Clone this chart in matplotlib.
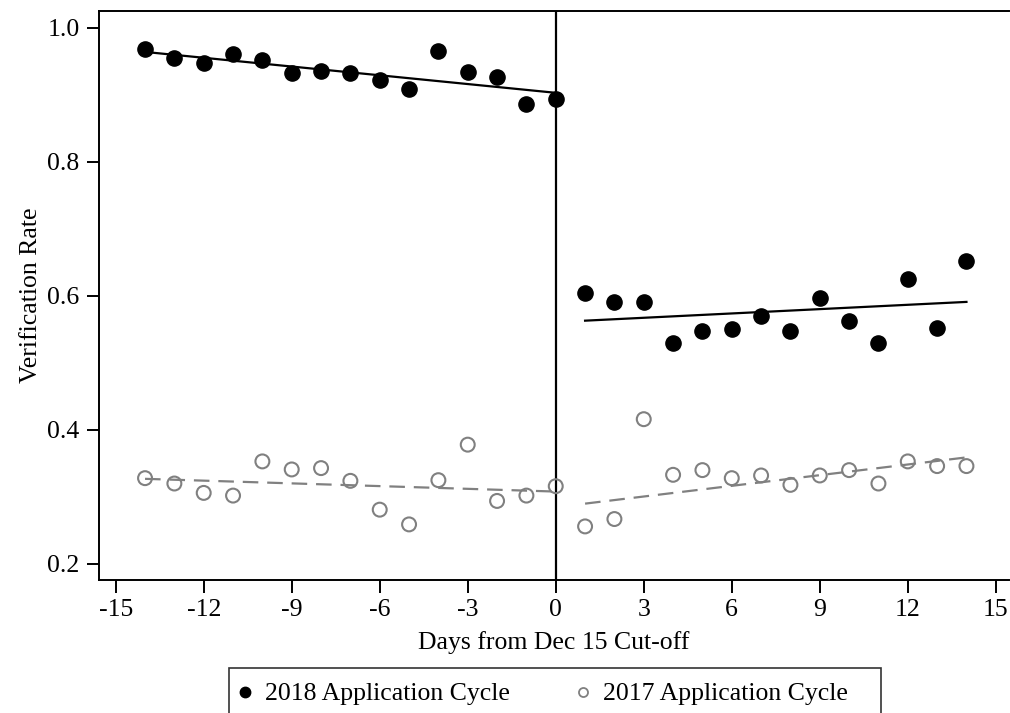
import matplotlib
matplotlib.use('Agg')
import matplotlib.pyplot as plt
from matplotlib.lines import Line2D
from matplotlib.patches import Rectangle

plt.rcParams['font.family'] = ['Liberation Serif', 'DejaVu Serif']
plt.rcParams['axes.unicode_minus'] = False

# days from the cut-off
days_before = [-14, -13, -12, -11, -10, -9, -8, -7, -6, -5, -4, -3, -2, -1, 0]
days_after = [1, 2, 3, 4, 5, 6, 7, 8, 9, 10, 11, 12, 13, 14]

# 2018 application cycle
rate_2018_before = [0.969, 0.955, 0.947, 0.961, 0.952, 0.932, 0.935, 0.933,
                    0.922, 0.908, 0.965, 0.934, 0.926, 0.887, 0.894]
rate_2018_after = [0.604, 0.591, 0.591, 0.530, 0.547, 0.551, 0.570, 0.547,
                   0.597, 0.562, 0.530, 0.625, 0.552, 0.652]

# 2017 application cycle
rate_2017_before = [0.328, 0.320, 0.306, 0.302, 0.353, 0.341, 0.343, 0.324,
                    0.281, 0.259, 0.325, 0.378, 0.294, 0.302, 0.316]
rate_2017_after = [0.256, 0.267, 0.416, 0.333, 0.340, 0.328, 0.332, 0.318,
                   0.332, 0.340, 0.320, 0.353, 0.346, 0.346]

# linear fit end points (x, y)
fit_2018_before = ([-14, 0], [0.964, 0.903])
fit_2018_after = ([1, 14], [0.563, 0.591])
fit_2017_before = ([-14, 0], [0.327, 0.308])
fit_2017_after = ([1, 14], [0.290, 0.359])

x_ticks = [-15, -12, -9, -6, -3, 0, 3, 6, 9, 12, 15]
y_ticks = [0.2, 0.4, 0.6, 0.8, 1.0]

fig = plt.figure(figsize=(10.1, 7.13), dpi=100)
ax = fig.add_axes([0.098, 0.1865, 0.901, 0.798])

gray = '#808080'
fs = 18.5

# fitted lines
ax.plot(*fit_2018_before, color='black', lw=1.6, zorder=2)
ax.plot(*fit_2018_after, color='black', lw=1.6, zorder=2)
ax.plot(*fit_2017_before, color=gray, lw=1.6, dashes=(7, 4), zorder=2)
ax.plot(*fit_2017_after, color=gray, lw=1.6, dashes=(7, 4), zorder=2)

# points
ax.scatter(days_before + days_after, rate_2018_before + rate_2018_after,
           s=120, color='black', zorder=3)
ax.scatter(days_before + days_after, rate_2017_before + rate_2017_after,
           s=100, facecolors='none', edgecolors=gray, linewidths=1.5, zorder=3)

ax.axvline(0, color='black', lw=1.6, zorder=1)

ax.set_xlim(-15.57, 15.45)
ax.set_ylim(0.176, 1.025)
ax.set_xticks(x_ticks)
ax.set_yticks(y_ticks)
ax.set_yticklabels([f'{v:.1f}' for v in y_ticks])
ax.tick_params(direction='out', length=9, width=1.4, labelsize=fs, pad=5)
ax.spines['right'].set_visible(False)
for s in ['left', 'bottom', 'top']:
    ax.spines[s].set_linewidth(1.4)

ax.set_xlabel('Days from Dec 15 Cut-off', fontsize=fs, labelpad=7)
ax.set_ylabel('Verification Rate', fontsize=fs, labelpad=4)

# legend box, cut off at the bottom of the picture
fig.patches.append(Rectangle((229 / 1010, -0.05), (881 - 229) / 1010, 0.05 + (713 - 668) / 713,
                             transform=fig.transFigure, fill=False,
                             edgecolor='#333333', lw=1.2))
handles = [Line2D([], [], marker='o', ls='none', color='black', markersize=7.5),
           Line2D([], [], marker='o', ls='none', markerfacecolor='none',
                  markeredgecolor=gray, markeredgewidth=1.3, markersize=6.5)]
fig.legend(handles, ['2018 Application Cycle', '2017 Application Cycle'],
           loc='center', bbox_to_anchor=(541 / 1010, 1 - 694 / 713), ncol=2,
           frameon=False, fontsize=fs, handletextpad=0.38, columnspacing=2.45,
           handlelength=0.8, borderpad=0, borderaxespad=0)

plt.savefig('out.png', dpi=100)
